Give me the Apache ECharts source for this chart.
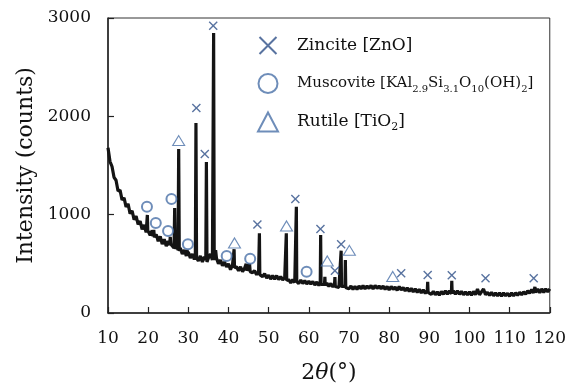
<!DOCTYPE html>
<html>
<head>
<meta charset="utf-8">
<script src="https://cdn.jsdelivr.net/npm/echarts@6/dist/echarts.min.js"></script>
<style>html,body{margin:0;padding:0;background:#fff}#c{width:569px;height:392px}</style>
</head>
<body>
<div id="c"></div>
<script>
// X-ray diffraction pattern: [2theta (deg), intensity (counts)]
var spectrum = [
[10.0,1680],[10.5,1540],[11.0,1490],[11.5,1380],[12.0,1350],[12.5,1240],[13.0,1250],[13.5,1150],
[14.0,1170],[14.5,1080],[15.0,1110],[15.5,1010],[16.0,1040],[16.5,950],[17.0,985],[17.5,900],
[18.0,935],[18.5,850],[19.0,895],[19.5,820],[19.7,830],[19.8,997],[19.9,840],[20.0,860],[20.5,790],
[21.0,840],[21.2,780],[21.4,844],[21.55,770],[22.0,800],[22.5,730],[23.0,780],[23.5,700],[24.0,750],
[24.5,680],[25.0,730],[25.35,690],[25.5,773],[25.65,700],[26.0,700],[26.45,660],[26.6,1068],[26.75,650],
[27.0,690],[27.45,640],[27.6,1668],[27.75,630],[28.0,660],[28.5,600],[29.0,640],[29.5,580],[29.6,600],
[29.7,641],[29.8,580],[30.0,620],[30.5,560],[31.0,600],[31.5,545],[31.75,580],[31.9,1932],[32.05,560],
[32.5,530],[33.0,580],[33.5,520],[34.0,570],[34.35,540],[34.5,1536],[34.65,520],[35.0,560],[35.5,600],
[36.0,540],[36.15,560],[36.3,2848],[36.45,540],[36.8,640],[37.0,560],[37.5,500],[38.0,540],[38.5,480],
[39.0,520],[39.3,540],[39.5,470],[40.0,500],[40.5,440],[41.0,490],[41.3,470],[41.4,648],[41.5,460],
[42.0,470],[42.5,430],[43.0,470],[43.5,420],[44.0,455],[44.3,440],[44.4,500],[44.55,430],[45.0,450],
[45.25,500],[45.4,420],[45.5,430],[46.0,410],[46.5,430],[47.0,390],[47.5,420],[47.6,400],[47.7,810],
[47.8,390],[48.0,410],[48.5,370],[49.0,400],[49.5,355],[50.0,385],[50.5,345],[51.0,380],[51.5,345],
[52.0,380],[52.5,340],[53.0,370],[53.5,335],[54.0,360],[54.3,340],[54.4,810],[54.5,330],[55.0,340],
[55.5,305],[56.0,340],[56.5,310],[56.8,330],[56.9,1081],[57.0,320],[57.5,300],[58.0,335],[58.5,300],
[59.0,330],[59.5,295],[60.0,325],[60.5,295],[61.0,320],[61.5,285],[62.0,315],[62.5,280],[62.85,310],
[62.95,793],[63.05,290],[63.5,300],[63.9,290],[64.0,369],[64.1,280],[64.5,305],[65.0,270],[65.5,300],
[66.0,265],[66.4,290],[66.5,366],[66.6,270],[67.0,290],[67.5,260],[67.95,280],[68.05,634],[68.15,270],
[68.5,280],[69.0,270],[69.1,539],[69.2,260],[69.5,275],[70.0,245],[70.5,275],[71.0,240],[71.5,270],
[72.0,240],[72.5,275],[73.0,245],[73.5,280],[74.0,245],[74.5,275],[75.0,250],[75.5,280],[76.0,245],
[76.5,280],[77.0,250],[77.5,275],[78.0,245],[78.5,275],[79.0,240],[79.5,270],[80.0,235],[80.5,270],
[81.0,240],[81.5,265],[82.0,230],[82.5,270],[83.0,235],[83.5,260],[84.0,225],[84.5,255],[85.0,220],
[85.5,250],[86.0,215],[86.5,245],[87.0,210],[87.5,240],[88.0,205],[88.5,235],[89.0,200],[89.5,230],
[89.6,318],[89.7,210],[90.0,225],[90.5,190],[91.0,220],[91.5,185],[92.0,215],[92.5,180],[93.0,220],
[93.5,190],[94.0,225],[94.5,190],[95.0,225],[95.5,195],[95.6,328],[95.7,200],[96.0,225],[96.5,190],
[97.0,225],[97.5,190],[98.0,220],[98.5,185],[99.0,215],[99.5,185],[100.0,215],[100.5,180],[101.0,220],
[101.5,185],[102.0,245],[102.5,185],[103.0,215],[103.5,245],[104.0,185],[104.5,210],[105.0,180],
[105.5,210],[106.0,175],[106.5,205],[107.0,175],[107.5,205],[108.0,170],[108.5,205],[109.0,175],
[109.5,200],[110.0,170],[110.5,205],[111.0,175],[111.5,205],[112.0,180],[112.5,210],[113.0,185],
[113.5,215],[114.0,190],[114.5,225],[115.0,200],[115.5,240],[116.0,205],[116.3,265],[116.5,210],
[117.0,245],[117.5,205],[118.0,245],[118.5,210],[119.0,245],[119.5,215],[120.0,245]
];
// phase markers [2theta, marker height]
var zincite = [[32.0,2085],[34.1,1617],[36.2,2922],[47.2,900],[56.65,1159],[62.9,854],[66.5,430],[68.05,700],[83.0,404],[89.6,386],[95.6,383],[104.0,353],[116.0,353]];
var muscovite = [[19.7,1081],[21.9,915],[24.95,834],[25.8,1160],[29.9,699],[39.55,580],[45.4,552],[59.45,420]];
var rutile = [[27.6,1753],[41.5,712],[54.45,885],[64.6,529],[70.1,637],[80.9,372]];
var xTicks = {min:10, max:120, interval:10};
var yTicks = {min:0, max:3000, interval:1000};

var FONT = 'DejaVu Serif';
var XPATH = 'path://M-0.6 -0.6M0 0L10 10M10 0L0 10M10.6 10.6';
var chart = echarts.init(document.getElementById('c'), null, {renderer:'canvas'});
var legendNames = {
  'Zincite': '{sp| }{a|Zincite [ZnO]}',
  'Muscovite': '{sp| }{m|Muscovite [KAl}{s|2.9}{m|Si}{s|3.1}{m|O}{s|10}{m|(OH)}{s|2}{m|]}',
  'Rutile': '{sp| }{a|Rutile [TiO}{s2|2}{a|]}'
};
chart.setOption({
  animation:false,
  backgroundColor:'#fff',
  grid:{left:108,right:17,top:18,bottom:79,show:true,borderColor:'#333',borderWidth:1,backgroundColor:'transparent'},
  legend:{
    orient:'vertical', left:252, top:30, itemGap:17, itemWidth:20, itemHeight:19,
    data:['Zincite','Muscovite','Rutile'],
    formatter:function(n){return legendNames[n];},
    textStyle:{fontFamily:FONT,color:'#111',
      rich:{
        sp:{width:14},
        a:{fontFamily:FONT,fontSize:17,color:'#111',lineHeight:22},
        m:{fontFamily:FONT,fontSize:15,color:'#111',lineHeight:22},
        s:{fontFamily:FONT,fontSize:10,color:'#111',lineHeight:11,verticalAlign:'bottom'},
        s2:{fontFamily:FONT,fontSize:11,color:'#111',lineHeight:11,verticalAlign:'bottom'}
      }}
  },
  xAxis:{
    type:'value', min:xTicks.min, max:xTicks.max, interval:xTicks.interval,
    name:'2{i|θ}(°)', nameLocation:'middle', nameGap:49,
    nameTextStyle:{fontFamily:FONT,fontSize:22,color:'#111',
      rich:{i:{fontFamily:FONT,fontStyle:'italic',fontSize:22,color:'#111'}}},
    axisLine:{show:true,onZero:false,lineStyle:{color:'#222',width:1.5}},
    axisTick:{show:true,inside:true,length:6,lineStyle:{color:'#222',width:1.2}},
    axisLabel:{fontFamily:FONT,fontSize:17,color:'#111',margin:17},
    splitLine:{show:false}
  },
  yAxis:{
    type:'value', min:yTicks.min, max:yTicks.max, interval:yTicks.interval,
    name:'Intensity (counts)', nameLocation:'middle', nameGap:67, nameRotate:90,
    nameTextStyle:{fontFamily:FONT,fontSize:22,color:'#111'},
    axisLine:{show:true,lineStyle:{color:'#222',width:1.5}},
    axisTick:{show:true,inside:true,length:6,lineStyle:{color:'#222',width:1.2}},
    axisLabel:{fontFamily:FONT,fontSize:17,color:'#111',margin:17,formatter:function(v){return String(v);}},
    splitLine:{show:false}
  },
  series:[
    {name:'spectrum',type:'line',data:spectrum,showSymbol:false,symbol:'none',
     lineStyle:{color:'#141414',width:3.2},z:2,silent:true},
    {name:'Zincite',type:'scatter',data:zincite,symbol:XPATH,symbolSize:9,
     itemStyle:{color:'transparent',borderColor:'#2f5088',borderWidth:1.4},z:3},
    {name:'Muscovite',type:'scatter',data:muscovite,symbol:'emptyCircle',symbolSize:10,
     itemStyle:{color:'#4a70a8',borderColor:'#4a70a8',borderWidth:1.1},z:3},
    {name:'Rutile',type:'scatter',data:rutile,symbol:'triangle',symbolSize:[12,10],
     itemStyle:{color:'transparent',borderColor:'#4a70a8',borderWidth:1.1},z:3}
  ]
});
</script>
</body>
</html>
